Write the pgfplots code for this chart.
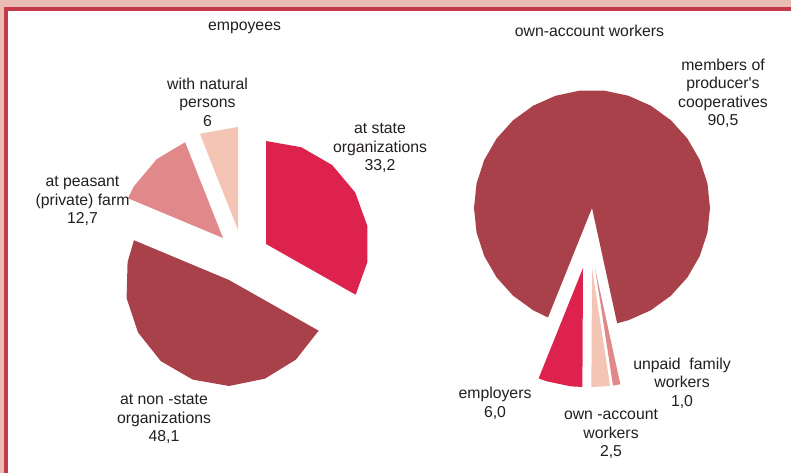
\documentclass[border=0pt]{standalone}
\usepackage{fontspec}
\setmainfont{Liberation Sans}
\usepackage{pgfplots}
\pgfplotsset{compat=1.18}

\definecolor{bandpink}{RGB}{233,188,180}
\definecolor{framered}{RGB}{196,58,72}
\definecolor{crimson}{RGB}{221,34,78}
\definecolor{wine}{RGB}{169,65,74}
\definecolor{rose}{RGB}{225,136,138}
\definecolor{peach}{RGB}{244,196,180}
\definecolor{txt}{RGB}{35,31,32}

\tikzset{lbl/.style={font=\fontsize{15.8}{18.5}\selectfont, text=txt, align=center, inner sep=0pt}}

\begin{document}
\begin{tikzpicture}
\begin{axis}[
    x=1pt, y=1pt,
    xmin=0, xmax=791, ymin=0, ymax=473,
    hide axis, clip=false,
]
% frame
\fill[bandpink] (axis cs:0,0) rectangle (axis cs:791,473);
\fill[framered] (axis cs:4,0) rectangle (axis cs:791,466);
\fill[white] (axis cs:8,0) rectangle (axis cs:791,462);

% ---- employees: 33.2 / 48.1 / 12.7 / 6 (angle = value * 3.6) ----
% at state organizations 33.2 -> 90 to -29.5
\addplot[fill=crimson, draw=none, data cs=polar, shift={(axis direction cs:266,229)}]
  coordinates {(0,0) (-29.5,103) (-10,103) (10,103) (30,103) (50,103) (70,103) (90,103)} -- cycle;
% at non-state organizations 48.1 -> -29.5 to -202.7
\addplot[fill=wine, draw=none, data cs=polar, shift={(axis direction cs:229,193)}]
  coordinates {(0,0) (157.3,103) (170,103) (190,104) (210,105) (230,106) (250,106) (270,106)
               (290,105) (310,104) (330.5,103)} -- cycle;
% at peasant (private) farm 12.7 -> 157.3 to 111.6
\addplot[fill=rose, draw=none, data cs=polar, shift={(axis direction cs:223,235)}]
  coordinates {(0,0) (111.6,103) (130,103) (150,103) (157.3,103)} -- cycle;
% with natural persons 6 -> 111.6 to 90
\addplot[fill=peach, draw=none, data cs=polar, shift={(axis direction cs:238,243)}]
  coordinates {(0,0) (90,103) (110,103) (111.6,103)} -- cycle;

% ---- own-account workers: 90.5 / 6.0 / 2.5 / 1.0 ----
% members of producer's cooperatives 90.5 -> -77.7 to 248.1
\addplot[fill=wine, draw=none, data cs=polar, shift={(axis direction cs:592,265)}]
  coordinates {(0,0) (-77.7,118) (-72,118) (-60,118) (-48,118) (-36,118) (-24,118) (-12,118)
               (0,118) (12,118) (24,118) (36,118) (48,118) (60,118) (72,118) (84,118)
               (96,118) (108,118) (120,118) (132,118) (144,118) (156,118) (168,118)
               (180,118) (192,118) (204,118) (216,118) (228,118) (240,118) (248.1,118)} -- cycle;
% employers 6.0 -> 248.1 to 269.7
\addplot[fill=crimson, draw=none, data cs=polar, shift={(axis direction cs:583,205)}]
  coordinates {(0,0) (248.1,119) (252,119) (264,119) (269.7,119)} -- cycle;
% own-account workers 2.5 -> 269.7 to 278.7
\addplot[fill=peach, draw=none, data cs=polar, shift={(axis direction cs:592,205)}]
  coordinates {(0,0) (269.7,119) (276,119) (278.7,119)} -- cycle;
% unpaid family workers 1.0 -> 278.7 to 282.3
\addplot[fill=rose, draw=none, data cs=polar, shift={(axis direction cs:595,205)}]
  coordinates {(0,0) (278.7,119) (282.3,119)} -- cycle;

% titles and labels
\node[lbl] at (axis cs:244.5,445) {empoyees};
\node[lbl] at (axis cs:589.5,442) {own-account workers};
\node[lbl] at (axis cs:207.5,371) {with natural\\persons\\6};
\node[lbl] at (axis cs:380,325) {at state\\organizations\\33,2};
\node[lbl] at (axis cs:82.5,272) {at peasant\\(private) farm\\12,7};
\node[lbl] at (axis cs:164,54) {at non -state\\organizations\\48,1};
\node[lbl] at (axis cs:723,379.5) {members of\\producer\textquotesingle s\\cooperatives\\90,5};
\node[lbl] at (axis cs:495,69.5) {employers\\6,0};
\node[lbl] at (axis cs:611,39) {own -account\\workers\\2,5};
\node[lbl] at (axis cs:682,90) {unpaid\ \ family\\workers\\1,0};
\end{axis}
\end{tikzpicture}
\end{document}
